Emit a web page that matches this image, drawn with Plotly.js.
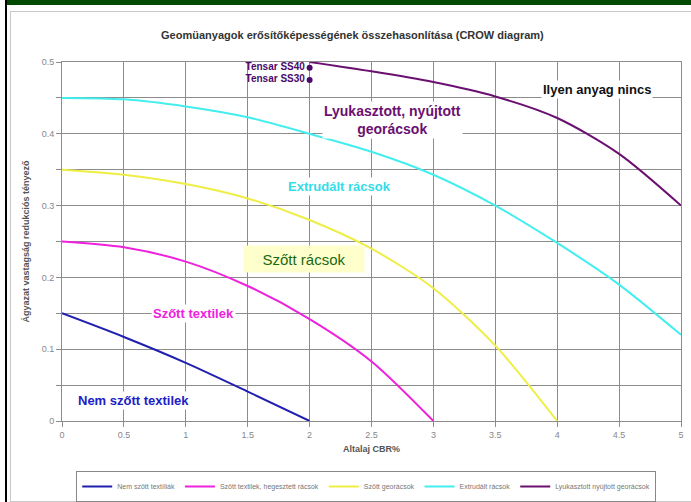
<!DOCTYPE html>
<html><head><meta charset="utf-8">
<script src="https://cdn.plot.ly/plotly-3.0.1.min.js"></script>
<style>
html,body{margin:0;padding:0;background:#fff;width:691px;height:502px;overflow:hidden;}
#greenbar{position:absolute;left:7px;top:0;width:684px;height:5px;background:#004a00;}
#blackbar{position:absolute;left:5px;top:0;width:2px;height:502px;background:#000;}
#frame{position:absolute;left:10px;top:11px;width:690px;height:489px;border:1px solid #c8c8c8;border-right:none;}
#chart{position:absolute;left:0;top:0;width:691px;height:502px;}
</style></head>
<body>
<div id="greenbar"></div><div id="blackbar"></div><div id="frame"></div>
<div id="chart"></div>
<script>
// Data
const seriesNames = ["Nem szött textíliák","Szött textilek, hegesztett rácsok","Szött georácsok","Extrudált rácsok","Lyukasztott nyújtott georácsok"];
const xNemSzott = [0,0.5,1,1.5,2];
const yNemSzott = [0.15,0.117,0.081,0.041,0];
const xSzottTextil = [0,0.5,1,1.5,2,2.5,3];
const ySzottTextil = [0.25,0.242,0.222,0.188,0.142,0.083,0];
const xSzottGeo = [0,0.5,1,1.5,2,2.5,3,3.5,4];
const ySzottGeo = [0.35,0.343,0.33,0.31,0.28,0.24,0.185,0.105,0];
const xExtrudalt = [0,0.5,1,1.5,2,2.5,3,3.5,4,4.5,5];
const yExtrudalt = [0.45,0.448,0.438,0.423,0.40,0.375,0.343,0.30,0.248,0.19,0.12];
const xLyukasztott = [2,2.5,3,3.5,4,4.5,5];
const yLyukasztott = [0.5,0.487,0.472,0.452,0.422,0.372,0.3];
const tensarNames = ["Tensar SS40","Tensar SS30"];
const tensarX = [2,2];
const tensarY = [0.492,0.475];
const xTicks = [0,0.5,1,1.5,2,2.5,3,3.5,4,4.5,5];
const xTickText = ["0","0.5","1","1.5","2","2.5","3","3.5","4","4.5","5"];
const yTicks = [0,0.1,0.2,0.3,0.4,0.5];
const yTickText = ["0","0.1","0.2","0.3","0.4","0.5"];

const colors = ["#2020b0","#ee22dd","#eeee44","#44eeee","#6a1070"];
const xs = [xNemSzott,xSzottTextil,xSzottGeo,xExtrudalt,xLyukasztott];
const ys = [yNemSzott,ySzottTextil,ySzottGeo,yExtrudalt,yLyukasztott];
const FONT = "Liberation Sans, Arial, sans-serif";

const traces = xs.map((x,i)=>({
  x:x, y:ys[i], type:'scatter', mode:'lines', name:seriesNames[i],
  line:{color:colors[i], width:2, shape:'spline', smoothing:0.8}
}));
traces.push({
  x:tensarX, y:tensarY, type:'scatter', mode:'markers+text', text:tensarNames,
  textposition:'middle left', showlegend:false,
  marker:{color:'#4a0a6a', size:6},
  textfont:{family:FONT, size:10, color:'#4a0a6a', weight:'bold'}
});

const ann = (x,y,text,color,size,extra)=>Object.assign({
  x:x, y:y, xref:'x', yref:'y', text:text, showarrow:false,
  font:{family:FONT, size:size, color:color, weight:'bold'},
  bgcolor:'#ffffff', borderpad:1
}, extra||{});

const layout = {
  width:691, height:502,
  margin:{l:62, r:10, t:62, b:81, autoexpand:false},
  paper_bgcolor:'rgba(0,0,0,0)', plot_bgcolor:'#ffffff',
  font:{family:FONT, color:'#777'},
  title:{text:'Geomüanyagok erősítőképességének összehasonlítása (CROW diagram)',
         font:{family:FONT, size:11, color:'#333', weight:'bold'}, x:0.51, xanchor:'center', y:0.93, yanchor:'middle'},
  xaxis:{range:[0,5], tickvals:xTicks, ticktext:xTickText, showgrid:true, gridcolor:'#8c8c8c', gridwidth:1,
         zeroline:false, showline:true, linecolor:'#8c8c8c', mirror:true, ticks:'outside', ticklen:5, tickcolor:'#8c8c8c',
         tickfont:{size:9, color:'#888'},
         title:{text:'Altalaj CBR%', font:{size:9, color:'#555', weight:'bold'}, standoff:6}},
  yaxis:{range:[0,0.5], tickvals:yTicks, ticktext:yTickText, showgrid:true, gridcolor:'#8c8c8c', gridwidth:1,
         zeroline:false, showline:true, linecolor:'#8c8c8c', mirror:true, ticks:'outside', ticklen:5, tickcolor:'#8c8c8c',
         tickfont:{size:9, color:'#888'},
         minor:{dtick:0.05, tick0:0, showgrid:true, gridcolor:'#8c8c8c', gridwidth:1, ticks:'outside', ticklen:5, tickcolor:'#8c8c8c'},
         title:{text:'Ágyazat vastagság redukciós tényező', font:{size:9, color:'#555', weight:'bold'}, standoff:10}},
  legend:{orientation:'h', xref:'container', yref:'container', x:0.53, y:-0.004, xanchor:'center', yanchor:'bottom',
          bordercolor:'#888', borderwidth:1, bgcolor:'#fff', font:{size:7, color:'#777'},
          itemwidth:30, tracegroupgap:0},
  annotations:[
    ann(4.325,0.462,'Ilyen anyag nincs','#111',13),
    ann(2.668,0.419,'Lyukasztott, nyújtott<br>georácsok','#6a1070',14),
    ann(2.24,0.3266,'Extrudált rácsok','#33dde8',13),
    ann(1.956,0.2259,'Szőtt rácsok','#1a6a10',15,{bgcolor:'#ffffcc', font:{family:FONT,size:15,color:'#1a6a10'}, width:118, height:24}),
    ann(1.059,0.150,'Szőtt textilek','#ee22dd',13),
    ann(0.574,0.0287,'Nem szőtt textilek','#2020c8',13)
  ]
};
Plotly.newPlot('chart', traces, layout, {displayModeBar:false, staticPlot:true});
</script>
</body></html>
